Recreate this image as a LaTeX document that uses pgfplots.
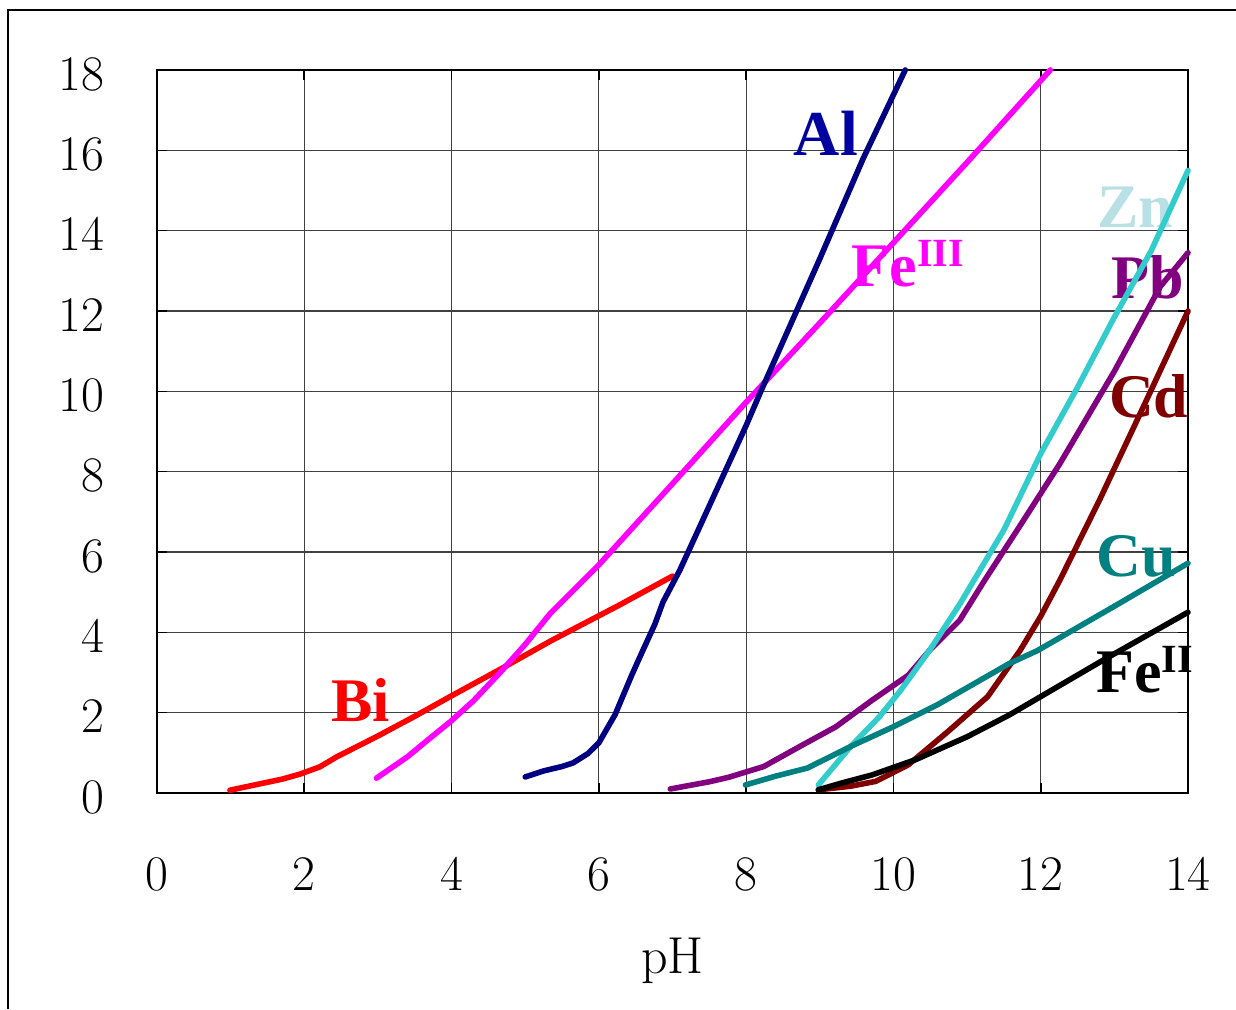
\documentclass[border=0pt]{standalone}
\usepackage{pgfplots}
\pgfplotsset{compat=1.18}
\usepackage{fontspec}
\newfontfamily\lbl{Liberation Serif}
\definecolor{cNavy}{RGB}{0,0,128}
\definecolor{cAlL}{RGB}{0,0,160}
\definecolor{cMag}{RGB}{255,0,255}
\definecolor{cZn}{RGB}{51,204,204}
\definecolor{cZnL}{RGB}{185,224,228}
\definecolor{cPb}{RGB}{128,0,128}
\definecolor{cCd}{RGB}{128,0,0}
\definecolor{cCu}{RGB}{0,128,128}
\tikzset{lb/.style={anchor=base west, xshift=-4pt, font=\lbl\bfseries\fontsize{31}{34}\selectfont}}
\begin{document}
\begin{tikzpicture}
\path[use as bounding box] (0pt,0pt) rectangle (618pt,504.5pt);
\draw[line width=0.6pt] (4pt,0pt) -- (4pt,499.5pt) -- (618pt,499.5pt);
\begin{axis}[
  at={(78.5pt,108pt)}, anchor=origin,
  scale only axis, width=515.5pt, height=361.5pt,
  xmin=0, xmax=14, ymin=0, ymax=18,
  xtick={0,2,...,14}, ytick={0,2,...,18},
  grid=major, grid style={black!75, line width=0.6pt},
  axis line style={black, line width=0.8pt},
  tick align=inside, major tick length=5pt, tick style={black, line width=0.8pt},
  xticklabel style={font=\fontsize{28}{30}\selectfont, yshift=-29pt},
  yticklabel style={font=\fontsize{28}{30}\selectfont, xshift=-23pt, yshift=-2pt},
  clip=false,
  every axis plot/.append style={line width=2.8pt, line join=round, line cap=round, no markers},
]
% labels
\node[lb, text=cAlL, font=\lbl\bfseries\fontsize{32}{34}\selectfont] at (axis cs:8.66,15.88) {Al};
\node[lb, text=cMag] at (axis cs:9.45,12.6) {Fe\raisebox{10pt}{\fontsize{20}{20}\selectfont III}};
\node[lb, text=cZnL] at (axis cs:12.78,14.09) {Zn};
\node[lb, text=cPb] at (axis cs:12.97,12.3) {Pb};
\node[lb, text=cCd] at (axis cs:12.94,9.36) {Cd};
\node[lb, text=cCu] at (axis cs:12.77,5.4) {Cu};
\node[lb, text=black] at (axis cs:12.77,2.49) {Fe\raisebox{10pt}{\fontsize{20}{20}\selectfont II}};
\node[lb, text=red] at (axis cs:2.38,1.79) {Bi};
\node[anchor=base, font=\fontsize{26}{28}\selectfont] at (rel axis cs:0.5,0) [yshift=-90pt] {pH};
% Bi
\addplot[red] coordinates {(0.99,0.07)(1.71,0.35)(1.94,0.47)(2.21,0.65)(2.44,0.9)(3.0,1.42)(3.53,1.94)(3.98,2.4)(4.66,3.08)(5.34,3.78)(6.3,4.7)(7.0,5.4)};
% Fe III
\addplot[cMag] coordinates {(2.98,0.37)(3.4,0.9)(3.71,1.37)(3.98,1.77)(4.3,2.3)(4.66,3.0)(5.0,3.7)(5.34,4.47)(6.0,5.68)(7.0,7.7)(8.0,9.73)(9.0,11.7)(10.0,13.7)(11.0,15.7)(12.13,18.0)};
% Al
\addplot[cNavy] coordinates {(5.0,0.4)(5.25,0.55)(5.5,0.66)(5.65,0.75)(5.85,0.98)(6.0,1.25)(6.22,1.95)(6.45,2.95)(6.6,3.56)(6.76,4.2)(6.87,4.75)(7.1,5.55)(8.0,9.15)(8.19,9.96)(9.0,13.3)(9.59,15.8)(10.16,18.0)};
% Pb
\addplot[cPb] coordinates {(6.97,0.1)(7.5,0.28)(7.76,0.39)(8.24,0.66)(8.73,1.16)(9.22,1.65)(9.71,2.31)(10.2,2.93)(10.49,3.55)(10.9,4.3)(11.24,5.3)(11.7,6.6)(12.26,8.2)(12.71,9.6)(13.0,10.5)(13.62,12.6)(14,13.45)};
% Zn
\addplot[cZn] coordinates {(8.98,0.2)(9.42,1.16)(9.81,1.9)(10.1,2.56)(10.49,3.55)(10.9,4.7)(11.5,6.55)(12.0,8.45)(12.5,10.1)(12.98,11.78)(13.5,13.5)(14,15.5)};
% Cd
\addplot[cCd] coordinates {(8.98,0.08)(9.42,0.17)(9.76,0.29)(10.2,0.7)(10.74,1.53)(11.28,2.4)(11.72,3.55)(12.0,4.4)(12.26,5.3)(12.8,7.3)(13.39,9.6)(14,12.0)};
% Cu
\addplot[cCu] coordinates {(7.99,0.2)(8.4,0.42)(8.83,0.62)(9.42,1.16)(10.0,1.65)(10.59,2.19)(11.57,3.22)(11.96,3.55)(13.0,4.65)(14,5.72)};
% Fe II
\addplot[black] coordinates {(8.98,0.08)(9.3,0.25)(9.71,0.45)(10.3,0.83)(11.0,1.4)(11.57,1.94)(12.84,3.3)(14,4.5)};
\end{axis}
\end{tikzpicture}
\end{document}
